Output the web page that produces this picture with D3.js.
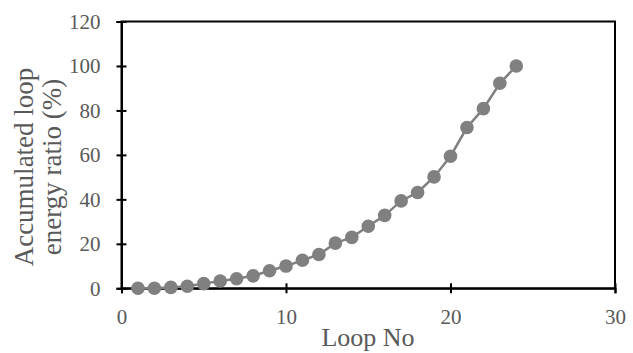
<!DOCTYPE html>
<html>
<head>
<meta charset="utf-8">
<script src="https://cdn.jsdelivr.net/npm/d3@7"></script>
<style>
  body { margin: 0; background: #fff; }
  svg { display: block; }
</style>
</head>
<body>
<svg id="chart" width="633" height="353"></svg>
<script>
// loop numbers and accumulated energy ratio (%)
const loops = [1, 2, 3, 4, 5, 6, 7, 8, 9, 10, 11, 12, 13, 14, 15, 16, 17, 18, 19, 20, 21, 22, 23, 24];
const ratio = [0, 0, 0.4, 0.9, 2.1, 3.3, 4.3, 5.6, 7.9, 10, 12.6, 15.2, 20.3, 22.9, 27.9, 32.8, 39.3, 43.1, 50.1, 59.4, 72.3, 80.8, 92.2, 100];
const xTicks = [0, 10, 20, 30];
const yTicks = [0, 20, 40, 60, 80, 100, 120];

const svg = d3.select('#chart');
const plotL = 121.5, plotR = 615, plotT = 21.5, plotB = 288.3;
const font = '"Liberation Serif", "Times New Roman", serif';

const x = d3.scaleLinear().domain([0, 30]).range([plotL, plotR]);
const y = d3.scaleLinear().domain([0, 120]).range([plotB, plotT]);

const data = loops.map((d, i) => ({ x: d, y: ratio[i] }));

// frame
svg.append('rect')
  .attr('x', plotL).attr('y', plotT)
  .attr('width', plotR - plotL).attr('height', plotB - plotT)
  .attr('fill', 'none').attr('stroke', '#000').attr('stroke-width', 2);

// axes with crossing ticks
const xAxis = svg.append('g')
  .attr('transform', `translate(0,${plotB})`)
  .call(d3.axisBottom(x).tickValues(xTicks).tickSize(5));
xAxis.selectAll('.tick line').attr('y1', -5).attr('y2', 5);
xAxis.selectAll('.tick text').attr('y', 36).attr('dy', 0);

const yAxis = svg.append('g')
  .attr('transform', `translate(${plotL},0)`)
  .call(d3.axisLeft(y).tickValues(yTicks).tickSize(5).tickPadding(16));
yAxis.selectAll('.tick line').attr('x1', -5).attr('x2', 5);

svg.selectAll('.domain').attr('stroke', '#000').attr('stroke-width', 2);
svg.selectAll('.tick line').attr('stroke', '#000').attr('stroke-width', 2);
svg.selectAll('.tick text')
  .attr('font-family', font).attr('font-size', 21).attr('fill', '#595959');

// line + markers
const line = d3.line().x(d => x(d.x)).y(d => y(d.y));
svg.append('path')
  .datum(data)
  .attr('d', line)
  .attr('fill', 'none')
  .attr('stroke', '#808080')
  .attr('stroke-width', 2.5);

svg.append('g')
  .selectAll('circle')
  .data(data)
  .enter()
  .append('circle')
  .attr('cx', d => x(d.x))
  .attr('cy', d => y(d.y))
  .attr('r', 6.8)
  .attr('fill', '#808080');

// axis titles
svg.append('text')
  .attr('x', 368).attr('y', 346)
  .attr('text-anchor', 'middle')
  .attr('font-family', font).attr('font-size', 26).attr('fill', '#595959')
  .text('Loop No');

const yTitle = svg.append('text')
  .attr('transform', 'translate(0,167) rotate(-90)')
  .attr('text-anchor', 'middle')
  .attr('font-family', font).attr('font-size', 27).attr('fill', '#595959');
yTitle.append('tspan').attr('x', 0).attr('y', 33).text('Accumulated loop');
yTitle.append('tspan').attr('x', 0).attr('y', 61).text('energy ratio (%)');
</script>
</body>
</html>
